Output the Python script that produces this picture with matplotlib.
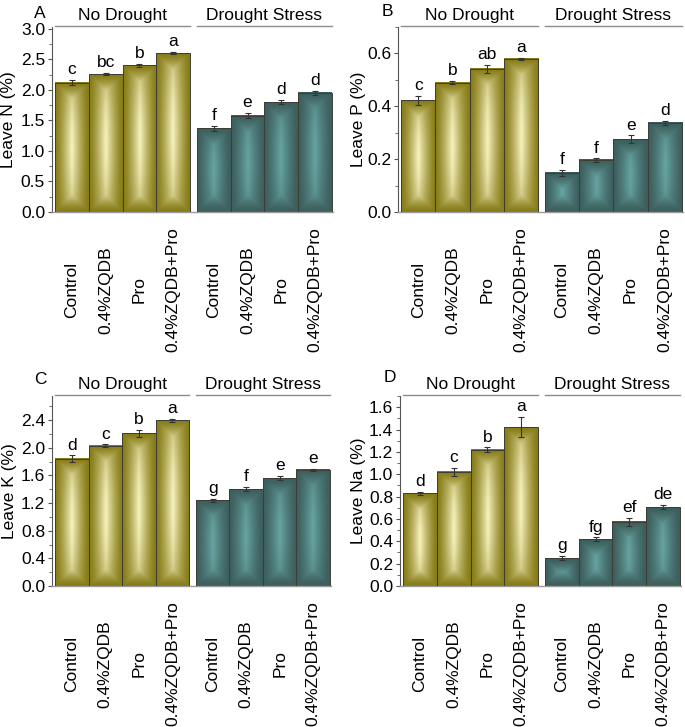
"""
Leaf nutrient contents (N, P, K, Na) under no drought / drought stress.
Four panels, gradient-shaded bars, significance letters above the error bars.
"""
import numpy as np
import matplotlib
matplotlib.use("Agg")
import matplotlib.pyplot as plt
import matplotlib.transforms as mtransforms
from matplotlib.ticker import MultipleLocator
from matplotlib.colors import to_rgb

plt.rcParams.update({
    "font.family": ["Liberation Sans", "DejaVu Sans"],
    "font.size": 12.5,
})

# ─── Data ────────────────────────────────────────────────────────────────────
treatments = ["Control", "0.4%ZQDB", "Pro", "0.4%ZQDB+Pro"]
groups = ["No Drought", "Drought Stress"]

n_nd = [2.12, 2.26, 2.40, 2.60]
n_nd_err = [0.04, 0.02, 0.03, 0.02]
n_ds = [1.37, 1.58, 1.80, 1.95]
n_ds_err = [0.04, 0.04, 0.03, 0.03]
n_letters = ["c", "bc", "b", "a", "f", "e", "d", "d"]

p_nd = [0.422, 0.490, 0.542, 0.580]
p_nd_err = [0.018, 0.007, 0.015, 0.003]
p_ds = [0.148, 0.197, 0.275, 0.338]
p_ds_err = [0.010, 0.006, 0.015, 0.008]
p_letters = ["c", "b", "ab", "a", "f", "f", "e", "d"]

k_nd = [1.84, 2.03, 2.21, 2.40]
k_nd_err = [0.05, 0.02, 0.05, 0.02]
k_ds = [1.24, 1.40, 1.56, 1.68]
k_ds_err = [0.02, 0.03, 0.03, 0.01]
k_letters = ["d", "c", "b", "a", "g", "f", "e", "e"]

na_nd = [0.83, 1.02, 1.22, 1.42]
na_nd_err = [0.015, 0.04, 0.02, 0.09]
na_ds = [0.25, 0.42, 0.575, 0.705]
na_ds_err = [0.02, 0.015, 0.035, 0.02]
na_letters = ["d", "c", "b", "a", "g", "fg", "ef", "de"]

# ─── Style ───────────────────────────────────────────────────────────────────
OLIVE_DARK, OLIVE_LIGHT = to_rgb("#857a15"), to_rgb("#f8f3bf")
TEAL_DARK, TEAL_LIGHT = to_rgb("#3c5d5c"), to_rgb("#66a5a2")

X_POS = [0, 1, 2, 3, 4.2, 5.2, 6.2, 7.2]
BAR_W = 1.0
XLIM = (-0.59, 7.73)


def gradient_image(wpx, hpx, dark, light):
    # light centre, dark edges: distance to nearest edge in pixels
    wpx, hpx = max(int(round(wpx)), 2), max(int(round(hpx)), 2)
    jj = np.arange(wpx) + 0.5
    ii = np.arange(hpx) + 0.5
    dx = np.minimum(jj, wpx - jj) / (wpx / 2.0)
    dy = np.minimum(ii, hpx - ii) / (wpx / 2.0)
    s = np.minimum(dx[None, :], np.clip(dy[:, None], 0, 1))
    vb = 0.55 + 0.45 * np.sin(np.pi * ii / hpx)
    t = (s ** 1.3) * vb[:, None]
    dark, light = np.array(dark), np.array(light)
    return dark + (light - dark) * t[..., None]


def panel(fig, rect, ylabel, nd, nd_err, ds, ds_err, letters,
          ymax, major, minor, label_x):
    ax = fig.add_axes(rect)
    ax.set_xlim(*XLIM)
    ax.set_ylim(0, ymax)
    vals = list(nd) + list(ds)
    errs = list(nd_err) + list(ds_err)

    # pixel scale for the gradient images
    fig.canvas.draw()
    bbox = ax.get_window_extent()
    px_x = bbox.width / (XLIM[1] - XLIM[0])
    px_y = bbox.height / ymax

    for i, (x, v) in enumerate(zip(X_POS, vals)):
        dark, light = (OLIVE_DARK, OLIVE_LIGHT) if i < 4 else (TEAL_DARK, TEAL_LIGHT)
        img = gradient_image(BAR_W * px_x * 2, v * px_y * 2, dark, light)
        ax.imshow(img, extent=(x - BAR_W / 2, x + BAR_W / 2, 0, v),
                  aspect="auto", interpolation="bilinear", zorder=2)
        ax.add_patch(plt.Rectangle((x - BAR_W / 2, 0), BAR_W, v, fill=False,
                                   edgecolor="#3d3d33", linewidth=0.7, zorder=3))

    ax.errorbar(X_POS, vals, yerr=errs, fmt="none", ecolor="#333333",
                elinewidth=0.8, capsize=2, capthick=0.8, zorder=4)
    for x, v, e, lt in zip(X_POS, vals, errs, letters):
        ax.annotate(lt, xy=(x, v + e), xytext=(0, 2), textcoords="offset points",
                    ha="center", va="bottom", fontsize=12.5, zorder=5)

    ax.set_xlim(*XLIM)
    ax.set_ylim(0, ymax)

    # group headers
    blend = mtransforms.blended_transform_factory(ax.transData, ax.transAxes)
    for g, (a, b) in zip(groups, [(X_POS[0], X_POS[3]), (X_POS[4], X_POS[7])]):
        x0, x1 = a - BAR_W / 2, b + BAR_W / 2
        ax.plot([x0, x1], [1.006, 1.006], transform=blend, color="#8c8c8c",
                linewidth=1.0, clip_on=False)
        ax.annotate(g, xy=((x0 + x1) / 2, 1.0), xycoords=blend, xytext=(0, 8.5),
                    textcoords="offset points", ha="center", va="center",
                    fontsize=12.5)

    ax.set_xticks(X_POS)
    ax.set_xticklabels(treatments * 2, rotation=90, va="center", ha="center")
    ax.tick_params(axis="x", length=0, pad=56)
    ax.yaxis.set_major_locator(MultipleLocator(major))
    ax.yaxis.set_minor_locator(MultipleLocator(minor))
    ax.yaxis.set_major_formatter(plt.FormatStrFormatter("%.1f"))
    ax.tick_params(axis="y", which="major", length=3, width=0.8, pad=2,
                   color="#555555")
    ax.tick_params(axis="y", which="minor", length=2, width=0.6, color="#555555")

    for side in ["top", "right"]:
        ax.spines[side].set_visible(False)
    ax.spines["left"].set_color("#555555")
    ax.spines["left"].set_linewidth(0.8)
    ax.spines["bottom"].set_color("#9a9a9a")
    ax.spines["bottom"].set_linewidth(1.0)

    ax.set_ylabel(ylabel)
    ax.yaxis.set_label_coords(label_x, 0.5)
    return ax


fig = plt.figure(figsize=(6.85, 7.27), dpi=100)
H = 727.0
W = 685.0
top_b, top_h = 1 - 212 / H, (212 - 27) / H
bot_b, bot_h = 1 - 586 / H, (586 - 396) / H

panel(fig, [52 / W, top_b, 281 / W, top_h], "Leave N (%)",
      n_nd, n_nd_err, n_ds, n_ds_err, n_letters, 3.03, 0.5, 0.25, -0.127)
panel(fig, [398 / W, top_b, 285 / W, top_h], "Leave P (%)",
      p_nd, p_nd_err, p_ds, p_ds_err, p_letters, 0.70, 0.2, 0.1, -0.112)
panel(fig, [52 / W, bot_b, 279 / W, bot_h], "Leave K (%)",
      k_nd, k_nd_err, k_ds, k_ds_err, k_letters, 2.75, 0.4, 0.2, -0.127)
panel(fig, [400 / W, bot_b, 281 / W, bot_h], "Leave Na (%)",
      na_nd, na_nd_err, na_ds, na_ds_err, na_letters, 1.70, 0.2, 0.1, -0.121)

for lt, (px, py) in zip("ABCD", [(40, 13), (387, 11), (40, 380), (390, 378)]):
    fig.text(px / W, 1 - py / H, lt, ha="center", va="center", fontsize=12.5)

fig.savefig("out.png", dpi=100)
